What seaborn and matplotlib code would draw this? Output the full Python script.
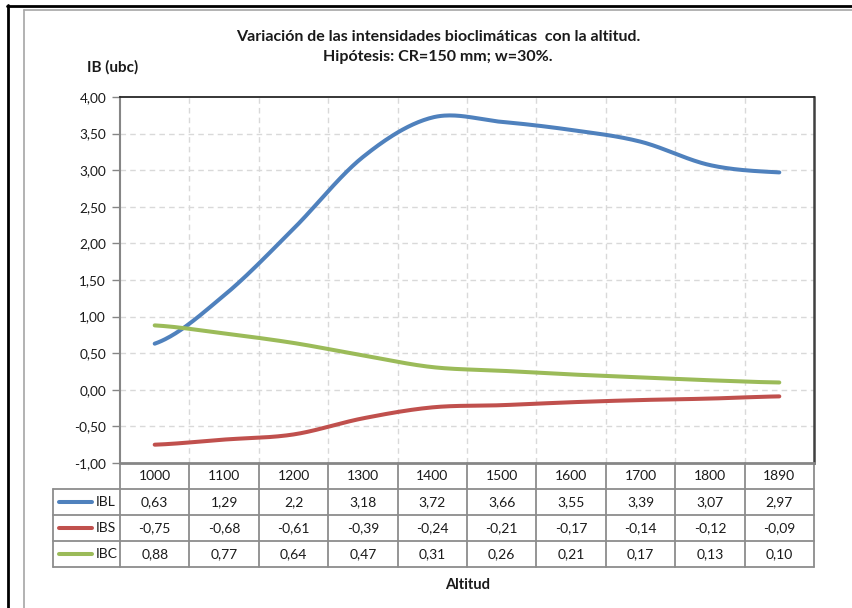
import numpy as np
import pandas as pd
import matplotlib
matplotlib.use("Agg")
import matplotlib.pyplot as plt
from matplotlib.lines import Line2D
from matplotlib.ticker import FuncFormatter, MultipleLocator
import seaborn as sns

altitudes = [1000, 1100, 1200, 1300, 1400, 1500, 1600, 1700, 1800, 1890]
ibl = [0.63, 1.29, 2.2, 3.18, 3.72, 3.66, 3.55, 3.39, 3.07, 2.97]
ibs = [-0.75, -0.68, -0.61, -0.39, -0.24, -0.21, -0.17, -0.14, -0.12, -0.09]
ibc = [0.88, 0.77, 0.64, 0.47, 0.31, 0.26, 0.21, 0.17, 0.13, 0.10]
series_names = ["IBL", "IBS", "IBC"]
series_colors = ["#4F81BD", "#C0504D", "#9BBB59"]


def smooth_curve(values, steps=40):
    """Excel-like smoothed line (Catmull-Rom) through the category points."""
    y = np.asarray(values, float)
    p = np.concatenate([[y[0]], y, [y[-1]]])
    t = np.linspace(0, 1, steps, endpoint=False)
    h00 = 2 * t**3 - 3 * t**2 + 1
    h10 = t**3 - 2 * t**2 + t
    h01 = -2 * t**3 + 3 * t**2
    h11 = t**3 - t**2
    xs, ys = [], []
    for i in range(len(y) - 1):
        m1 = (p[i + 2] - p[i]) / 2
        m2 = (p[i + 3] - p[i + 1]) / 2
        ys.append(h00 * p[i + 1] + h10 * m1 + h01 * p[i + 2] + h11 * m2)
        xs.append(i + t)
    xs.append([len(y) - 1])
    ys.append([y[-1]])
    return np.concatenate(xs), np.concatenate(ys)


def fmt_comma(v, decimals=2):
    return f"{v:.{decimals}f}".replace(".", ",")


sns.set_theme(style="white")
plt.rcParams["font.family"] = ["Lato", "DejaVu Sans"]

fig = plt.figure(figsize=(8.52, 6.08), dpi=100)
W, H = 852, 608
ax = fig.add_axes([120 / W, 1 - 463 / H, (814 - 120) / W, (463 - 97) / H])

frames = []
for name, vals in zip(series_names, [ibl, ibs, ibc]):
    xs, ys = smooth_curve(vals)
    frames.append(pd.DataFrame({"x": xs, "y": ys, "serie": name}))
curves = pd.concat(frames, ignore_index=True)

sns.lineplot(data=curves, x="x", y="y", hue="serie", palette=series_colors,
             hue_order=series_names, sort=False, estimator=None, lw=2.9,
             solid_capstyle="round", legend=False, ax=ax)

ax.set_xlim(-0.5, len(altitudes) - 0.5)
ax.set_ylim(-1, 4)
ax.yaxis.set_major_locator(MultipleLocator(0.5))
ax.yaxis.set_major_formatter(FuncFormatter(lambda v, _: fmt_comma(v)))
ax.set_xticks([])
ax.set_xlabel("")
ax.set_ylabel("")
ax.tick_params(axis="y", which="major", left=True, length=6, width=1,
               color="#868686", labelsize=9.8, labelcolor="#1a1a1a", pad=4)

# dashed grid: horizontal at ticks, vertical at category boundaries
for yv in np.arange(-0.5, 4.0, 0.5):
    ax.axhline(yv, color="#D9D9D9", lw=1, ls=(0, (4, 3)), zorder=0)
for xv in np.arange(0.5, len(altitudes) - 0.5, 1):
    ax.axvline(xv, color="#D9D9D9", lw=1, ls=(0, (4, 3)), zorder=0)

for side, col, w in [("top", "#262626", 1.3), ("right", "#404040", 1.8),
                     ("left", "#868686", 1.5), ("bottom", "#868686", 2.0)]:
    ax.spines[side].set_color(col)
    ax.spines[side].set_linewidth(w)

# data table under the plot (axes coordinates)
ax_h = 463 - 97
ax_w = 814 - 120
row_h = 26 / ax_h
n = len(altitudes)
grid_kw = dict(transform=ax.transAxes, clip_on=False, color="#8C8C8C", lw=1.3)
leg_left = -(120 - 53) / ax_w

# horizontal lines
for r in range(1, 5):
    ax.plot([leg_left, 1], [-r * row_h, -r * row_h], **grid_kw)
# vertical lines
for c in range(n + 1):
    ax.plot([c / n, c / n], [0, -4 * row_h], **grid_kw)
ax.plot([leg_left, leg_left], [-row_h, -4 * row_h], **grid_kw)

text_kw = dict(transform=ax.transAxes, ha="center", va="center",
               fontsize=10, color="#1a1a1a", clip_on=False)
for c, alt in enumerate(altitudes):
    ax.text((c + 0.5) / n, -0.5 * row_h, str(alt), **text_kw)

row_labels = [
    [f"{v:g}".replace(".", ",") for v in ibl],
    [fmt_comma(v) for v in ibs],
    [fmt_comma(v) for v in ibc],
]
for r, (name, color, labels) in enumerate(zip(series_names, series_colors, row_labels)):
    yc = -(r + 1.5) * row_h
    for c, lab in enumerate(labels):
        ax.text((c + 0.5) / n, yc, lab, **text_kw)
    ax.add_line(Line2D([-(120 - 59) / ax_w, -(120 - 92) / ax_w], [yc, yc],
                       transform=ax.transAxes, color=color, lw=2.9,
                       solid_capstyle="round", clip_on=False))
    ax.text(-(120 - 96) / ax_w, yc, name, transform=ax.transAxes, ha="left",
            va="center", fontsize=10, color="#1a1a1a", clip_on=False)

# titles and axis labels
fig.text(438 / W, 1 - 37 / H, "Variación de las intensidades bioclimáticas  con la altitud.",
         ha="center", va="center", fontsize=11.5, fontweight="bold", color="#1a1a1a")
fig.text(438 / W, 1 - 57 / H, "Hipótesis: CR=150 mm; w=30%.",
         ha="center", va="center", fontsize=11.5, fontweight="bold", color="#1a1a1a")
fig.text(113 / W, 1 - 67 / H, "IB (ubc)", ha="center", va="center",
         fontsize=11, fontweight="bold", color="#1a1a1a")
fig.text(468 / W, 1 - 585 / H, "Altitud", ha="center", va="center",
         fontsize=10.5, fontweight="bold", color="#1a1a1a")

# outer frame from the screenshot crop
fig.add_artist(Line2D([7 / W, 1], [1 - 6 / H, 1 - 6 / H], transform=fig.transFigure,
                      color="black", lw=2))
fig.add_artist(Line2D([8 / W, 8 / W], [1 - 5 / H, 0], transform=fig.transFigure,
                      color="black", lw=2))
fig.add_artist(Line2D([24 / W, 1], [1 - 10 / H, 1 - 10 / H], transform=fig.transFigure,
                      color="#A6A6A6", lw=1.2))
fig.add_artist(Line2D([24 / W, 24 / W], [1 - 10 / H, 0], transform=fig.transFigure,
                      color="#A6A6A6", lw=1.2))

fig.savefig("out.png", dpi=100)
